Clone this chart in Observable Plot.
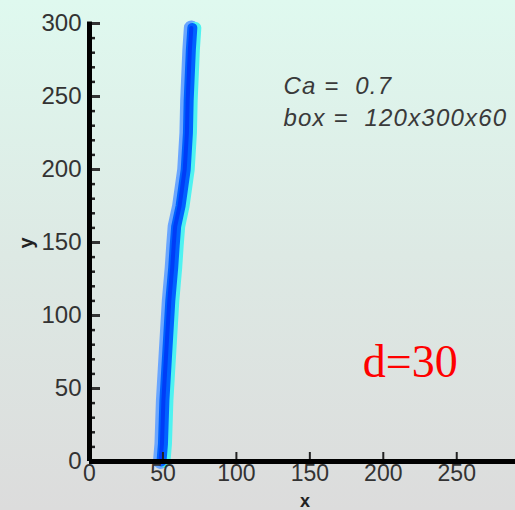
<!DOCTYPE html>
<html><head><meta charset="utf-8">
<script src="https://cdn.jsdelivr.net/npm/d3@7"></script>
<script src="https://cdn.jsdelivr.net/npm/@observablehq/plot@0.6"></script>
<style>
html,body{margin:0;padding:0;}
body{width:515px;height:510px;overflow:hidden;background:linear-gradient(to bottom,#dff9ef 0%,#dde9e4 50%,#dcdcdc 100%);}
#chart svg{display:block;overflow:visible;}
</style></head><body><div id="chart"></div>
<script>
// Interface position (x) along height (y)
const curveX = [49, 50, 51, 53, 55, 57, 58, 59, 62, 65.5, 67, 67.5, 69, 70];
const curveY = [0, 12, 42, 76, 110, 133, 148, 161, 175, 200, 225, 247, 282, 297];
const xTicks = [0, 50, 100, 150, 200, 250];
const yTicks = [0, 50, 100, 150, 200, 250, 300];
const yMinorTicks = [10,20,30,40,60,70,80,90,110,120,130,140,160,170,180,190,210,220,230,240,260,270,280,290];
const xMajorMarks = [50, 100, 150, 200, 250];
const noteLines = ["Ca =  0.7", "box =  120x300x60"];
const tagText = "d=30";

const W = 515, H = 510;
const mL = 89, mR = 0, mT = 23, mB = 49;
const frameW = W - mL - mR, frameH = H - mT - mB;

const curve = curveX.map((x, i) => ({x, y: curveY[i]}));

const plot = Plot.plot({
  width: W, height: H,
  marginLeft: mL, marginRight: mR, marginTop: mT, marginBottom: mB,
  style: {background: "transparent", fontFamily: "Liberation Sans, Arial, sans-serif", color: "#333"},
  x: {domain: [0, 290], label: null},
  y: {domain: [0, 300], label: null},
  marks: [
    // thick interface line with coloured edges
    Plot.line(curve, {x: "x", y: "y", stroke: "#6aa6ff", strokeWidth: 15, strokeLinecap: "round", strokeLinejoin: "round", dx: -1}),
    Plot.line(curve, {x: "x", y: "y", stroke: "#4ff2f0", strokeWidth: 12, strokeLinecap: "round", strokeLinejoin: "round", dx: 3}),
    Plot.line(curve, {x: "x", y: "y", stroke: "#0062ff", strokeWidth: 10, strokeLinecap: "round", strokeLinejoin: "round"}),
    Plot.line(curve, {x: "x", y: "y", stroke: "#0018f0", strokeWidth: 4, strokeOpacity: 0.5, strokeLinecap: "round", strokeLinejoin: "round", dx: -1}),
    // minor and major inward ticks
    Plot.tickY(yMinorTicks, {y: d => d, stroke: "#222", strokeWidth: 2.5, insetRight: frameW - 6}),
    Plot.tickY(yTicks, {y: d => d, stroke: "#333", strokeWidth: 3, insetRight: frameW - 11}),
    Plot.tickX(xMajorMarks, {x: d => d, stroke: "#222", strokeWidth: 2, insetTop: frameH - 9}),
    // axis lines
    Plot.ruleX([0], {y1: 0, y2: 301, stroke: "#000", strokeWidth: 5}),
    Plot.ruleY([0], {x1: 0, x2: 290, stroke: "#000", strokeWidth: 5}),
    Plot.axisY({ticks: yTicks, tickSize: 0, tickPadding: 8, fontSize: 24, fill: "#333"}),
    Plot.axisX({ticks: xTicks, tickSize: 0, tickPadding: 3, fontSize: 23, fill: "#333"}),
    // annotations
    Plot.text([noteLines[0]], {x: () => 132, y: () => 257, text: d => d, textAnchor: "start", fontSize: 24, fontStyle: "italic", fill: "#3a3a3a"}),
    Plot.text([noteLines[1]], {x: () => 132, y: () => 235, text: d => d, textAnchor: "start", fontSize: 24, fontStyle: "italic", fill: "#3a3a3a"}),
    Plot.text([tagText], {x: () => 186, y: () => 68, text: d => d, textAnchor: "start", fontSize: 46, fontFamily: "Liberation Serif, Times New Roman, serif", fill: "#ff0000"})
  ]
});

const svg = d3.select(plot);
// widen annotation lettering like the reference
svg.selectAll("text").filter(function() { return noteLines.includes(this.textContent); }).attr("letter-spacing", "1.2px");
// axis titles
svg.append("text").attr("x", 305).attr("y", 507).attr("text-anchor", "middle")
  .attr("font-size", 18).attr("font-weight", "bold").attr("fill", "#222").attr("font-family", "Liberation Sans, Arial, sans-serif").text("x");
svg.append("text").attr("transform", "translate(33,243) rotate(-90)").attr("text-anchor", "middle")
  .attr("font-size", 20).attr("font-weight", "bold").attr("fill", "#222").attr("font-family", "Liberation Sans, Arial, sans-serif").text("y");

document.getElementById("chart").appendChild(plot);
</script></body></html>
